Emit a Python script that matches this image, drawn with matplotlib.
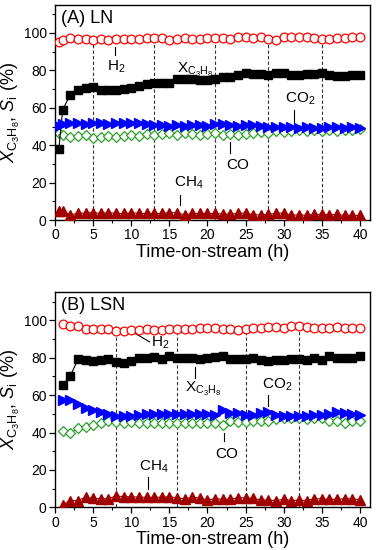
import numpy as np
import matplotlib
matplotlib.use("Agg")
import matplotlib.pyplot as plt
from matplotlib.ticker import MultipleLocator

plt.rcParams['font.family'] = ['Liberation Sans', 'DejaVu Sans']
plt.rcParams['mathtext.fontset'] = 'custom'
plt.rcParams['mathtext.rm'] = 'Liberation Sans'
plt.rcParams['mathtext.it'] = 'Liberation Sans:italic'

# Panel A (LN)
time_a = [0.5] + list(range(1, 41))
xc3h8_a = [38, 59, 67, 69.5, 70.5, 71, 69.5, 69.5, 69.5, 70, 70.5, 71.5, 72.5, 73, 73, 73,
           75.5, 75.5, 75.5, 75, 75, 75.5, 76.5, 76.5, 77.5, 78.5, 78, 78, 77.5, 78.5, 78.5,
           77.5, 77.5, 78, 78, 78.5, 77.5, 77, 77, 77.5, 77.5]
h2_a = [95.2, 96, 97.3, 97, 96.8, 96.5, 97, 96.5, 97, 97, 97, 96.8, 97.3, 97.3, 97.3, 96.5,
        96.8, 97.3, 97, 96.8, 97.5, 97.3, 97.3, 97, 97.8, 97.8, 97.5, 97.8, 97, 96.5, 98, 98,
        97.8, 97.8, 97.3, 96.8, 97, 97.3, 97.5, 97.8, 97.8]
co2_a = [50.5, 51.5, 51.8, 51.8, 51.5, 51.8, 51.8, 51.5, 51.8, 51.8, 52, 51.8, 51.5, 51, 50.8,
         50.5, 50.8, 50.5, 51, 51, 50.5, 51.5, 51.3, 51, 50.5, 51, 51, 50.5, 50, 49.5, 49.5,
         49.5, 49, 49.5, 49, 49, 49.5, 49.5, 49, 49.5, 49]
co_a = [46.5, 45.5, 44.5, 45, 45.5, 44, 44.5, 45, 44.5, 45, 45.5, 45, 46, 45.5, 46, 46.5, 45.5,
        46.5, 46, 45.5, 46, 46.5, 45.5, 46, 45.5, 46, 46.5, 47, 46.5, 47.5, 47, 47.5, 48, 47.5,
        48, 47.5, 48, 47.5, 48, 48, 48.5]
ch4_a = [4.8, 4.8, 2.8, 3.5, 3.8, 4, 3.5, 4, 3.5, 3.5, 3.8, 3.5, 3.5, 3.5, 3.5, 4, 3.8, 2.8,
         3.5, 3.5, 3.5, 3.5, 3.2, 3.2, 3.5, 3.8, 2.8, 2.8, 3, 3.5, 3.8, 2.5, 2.8, 2.5, 3, 3,
         2.8, 3, 2.5, 2.5, 2.5]
vlines_a = [5, 13, 21, 28, 35]

# Panel B (LSN)
time_b = list(range(1, 41))
xc3h8_b = [65.4, 70.2, 79.1, 79, 78.2, 78.6, 79.1, 77.7, 77.2, 78.2, 79.8, 79.8, 80.4, 79.5,
           80.7, 79.6, 80, 80, 79.5, 79.6, 80.3, 81, 79.5, 79.3, 79.5, 80, 79, 78.2, 78.8, 79,
           79.5, 79.3, 79, 80, 79, 80.7, 80, 80, 79.8, 80.7]
h2_b = [98.2, 96.8, 96.7, 95.3, 95.5, 95.6, 95.4, 94.4, 94.4, 94.8, 95, 95.2, 95, 94.8, 95.2,
        95.3, 95.2, 95.4, 96.1, 95.8, 95.8, 95.6, 95.4, 95, 95.3, 96, 96, 96.3, 96.5, 96,
        96.8, 96.8, 96.6, 96, 96, 96, 96.2, 96, 95.8, 96]
co2_b = [57.6, 57.5, 55.3, 53.2, 51.8, 50.9, 50, 48.6, 49.1, 49.1, 49.6, 50, 50, 50, 50, 50,
         50, 50, 50, 50, 49.6, 51.8, 50.4, 50.4, 49.6, 49.6, 50.4, 50.9, 49.6, 49.1, 49.1,
         49.1, 49.1, 49.6, 49.6, 50, 50.9, 50.4, 50, 49.6]
co_b = [41, 39.6, 42.3, 43.2, 44.1, 45, 45.9, 45.4, 45, 45.4, 45, 45, 45.2, 45, 45, 45.2, 45,
        45, 45.2, 45, 45, 44.1, 45.9, 45.4, 45.4, 45.9, 46.4, 46.4, 47.1, 47.7, 47.5, 47.7,
        47.2, 47.5, 47.5, 46.4, 45.9, 45, 45.9, 46.4]
ch4_b = [1.3, 3.6, 3.6, 5.4, 4.8, 4.6, 4.6, 6.1, 5.7, 5.7, 5.4, 5.4, 5.4, 5.4, 5.7, 5, 4.6,
         5.4, 5, 3.9, 4.6, 4.3, 4.5, 5, 5.2, 4.8, 3.9, 3.9, 3.6, 4.3, 3.6, 3.9, 3.6, 4.6,
         4.5, 4.3, 4.3, 4.6, 4.6, 4.1]
vlines_b = [8, 16, 25, 32]

fig = plt.figure(figsize=(3.77, 5.5), dpi=100)
ax_a = fig.add_axes([0.146, 0.600, 0.835, 0.391])
ax_b = fig.add_axes([0.146, 0.0776, 0.835, 0.391])


def draw_panel(ax, t, xc, h2, co2, co, ch4, vl, title):
    for v in vl:
        ax.plot([v, v], [0, 97.5], color='#333333', ls=(0, (3, 2)), lw=0.8, zorder=1)
    ax.plot(t, h2, color='red', lw=0.8, marker='o', ms=6.3, mfc='white',
            mec='red', mew=0.9, zorder=3)
    ax.plot(t, xc, color='black', lw=0.8, marker='s', ms=5.5, zorder=3)
    ax.plot(t, co2, color='#0000ff', lw=0.8, marker='>', ms=6.8, zorder=3)
    ax.plot(t, co, color='#2ca02c', lw=0.8, marker='D', ms=5.3, mfc='white',
            mec='#2ca02c', mew=0.9, zorder=2)
    ax.plot(t, ch4, color='#a00000', lw=0.8, marker='^', ms=6.8, zorder=3)
    ax.set_xlim(0, 41.3)
    ax.set_ylim(0, 115)
    ax.xaxis.set_major_locator(MultipleLocator(5))
    ax.xaxis.set_minor_locator(MultipleLocator(2.5))
    ax.yaxis.set_major_locator(MultipleLocator(20))
    ax.yaxis.set_minor_locator(MultipleLocator(10))
    ax.set_yticks([0, 20, 40, 60, 80, 100])
    ax.tick_params(which='major', length=4, width=0.9, labelsize=10, pad=2)
    ax.tick_params(which='minor', length=2.5, width=0.8)
    for s in ax.spines.values():
        s.set_linewidth(1.0)
    ax.set_xlabel('Time-on-stream (h)', fontsize=13, labelpad=1)
    ax.set_ylabel(r'$X_{\mathrm{C_3H_8}}$, $S_{\mathrm{i}}$ (%)', fontsize=13, labelpad=1)
    ax.text(0.8, 108, title, fontsize=13, va='center', ha='left')


draw_panel(ax_a, time_a, xc3h8_a, h2_a, co2_a, co_a, ch4_a, vlines_a, '(A) LN')
draw_panel(ax_b, time_b, xc3h8_b, h2_b, co2_b, co_b, ch4_b, vlines_b, '(B) LSN')

lk = dict(color='black', lw=0.8)
tk = dict(fontsize=11, ha='center', va='center')

# annotations panel A
ax_a.plot([7.9, 7.9], [92.5, 88.5], **lk)
ax_a.text(8.0, 82, r'H$_2$', **tk)
ax_a.text(18.4, 80, r'X$_{\mathrm{C_3H_8}}$', **tk)
ax_a.plot([31.3, 31.3], [59, 52.5], **lk)
ax_a.text(32.2, 65, r'CO$_2$', **tk)
ax_a.plot([23, 23], [41.5, 36], **lk)
ax_a.text(24, 29.5, 'CO', **tk)
ax_a.plot([16.4, 16.4], [13.4, 8], **lk)
ax_a.text(17.5, 20, r'CH$_4$', **tk)

# annotations panel B
ax_b.plot([10.3, 12.4], [93.5, 88.5], **lk)
ax_b.text(13.8, 88, r'H$_2$', **tk)
ax_b.plot([18.3, 18.3], [75, 69.3], **lk)
ax_b.text(19.4, 63.5, r'X$_{\mathrm{C_3H_8}}$', **tk)
ax_b.plot([28, 28], [60, 54.4], **lk)
ax_b.text(29.1, 65.5, r'CO$_2$', **tk)
ax_b.plot([22.2, 22.2], [39.5, 35.5], **lk)
ax_b.text(22.5, 28.5, 'CO', **tk)
ax_b.plot([12.2, 12.2], [16, 10], **lk)
ax_b.text(12.9, 21.5, r'CH$_4$', **tk)

fig.savefig('out.png', dpi=100)
